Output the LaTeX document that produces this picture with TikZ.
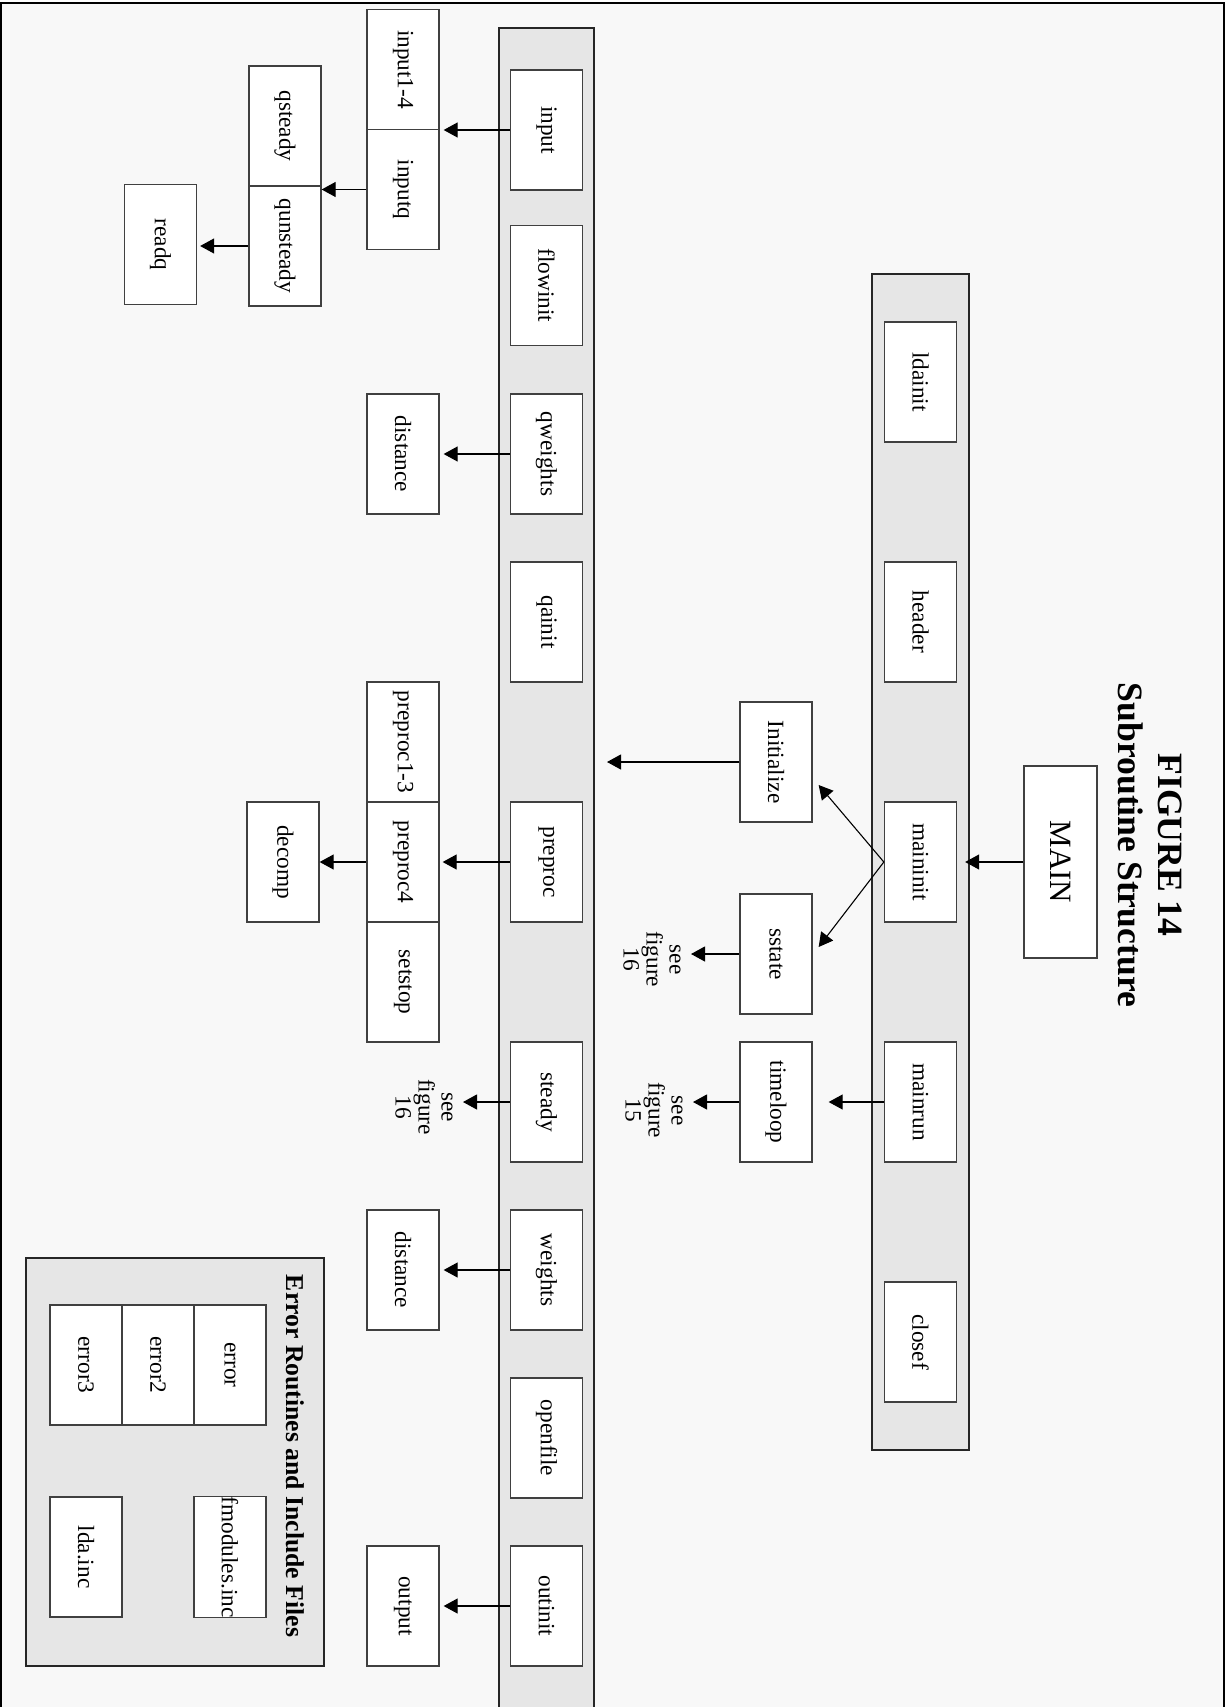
\documentclass[tikz,border=0pt]{standalone}
\usepackage{fontspec}
\setmainfont{Liberation Serif}
\usetikzlibrary{arrows.meta,calc}
\definecolor{bgc}{HTML}{F8F8F8}
\definecolor{stripc}{HTML}{E6E6E6}
\begin{document}
\begin{tikzpicture}[x=0.5pt,y=-0.5pt,
  box/.style={draw=black!75, fill=white, line width=0.65pt, rotate=-90,
    minimum width=60pt, minimum height=36pt, inner sep=0pt,
    font=\fontsize{11.65pt}{13pt}\selectfont},
  arr/.style={-{Triangle[length=7pt,width=7.5pt]}, line width=0.55pt},
  strip/.style={fill=stripc, draw=black!85, line width=0.65pt},
  seefig/.style={rotate=-90, align=center, inner xsep=0pt, inner ysep=5pt,
    anchor=north, font=\fontsize{11.65pt}{11.5pt}\selectfont}
]
\useasboundingbox (0,0) rectangle (1231,1707);
\fill[white] (0,0) rectangle (1231,1707);
\fill[bgc] (1,3) rectangle (1224,1707);
\draw[line width=0.65pt] (1,1707) -- (1,3) -- (1224,3) -- (1224,1707);

% strips
\path[strip] (499,28) rectangle (594,1715);
\path[strip] (872,274) rectangle (969,1450);
\path[strip] (26,1258) rectangle (324,1666);

% title
\node[rotate=-90, align=center, font=\bfseries\fontsize{17.8pt}{20pt}\selectfont] (title) at (1150,845) {FIGURE 14\\Subroutine Structure};
\node[box, minimum width=96pt, minimum height=36.5pt, font=\fontsize{15.5pt}{18pt}\selectfont] (MAIN) at (1060.5,862) {MAIN};

% right strip
\node[box] (ldainit) at (920.5,382) {ldainit};
\node[box] (header) at (920.5,622) {header};
\node[box] (maininit) at (920.5,862) {maininit};
\node[box] (mainrun) at (920.5,1102) {mainrun};
\node[box] (closef) at (920.5,1342) {closef};

% middle column
\node[box] (Initialize) at (776,762) {Initialize};
\node[box] (sstate) at (776,954) {sstate};
\node[box] (timeloop) at (776,1102) {timeloop};

% left strip
\node[box] (input) at (546.5,130) {input};
\node[box] (flowinit) at (546.5,285.5) {flowinit};
\node[box] (qweights) at (546.5,454) {qweights};
\node[box] (qainit) at (546.5,622) {qainit};
\node[box] (preproc) at (546.5,862) {preproc};
\node[box] (steady) at (546.5,1102) {steady};
\node[box] (weights) at (546.5,1270) {weights};
\node[box] (openfile) at (546.5,1438) {openfile};
\node[box] (outinit) at (546.5,1606) {outinit};

% left column
\node[box] (input14) at (403,69.5) {input1-4};
\node[box] (inputq) at (403,189.5) {inputq};
\node[box] (qsteady) at (285,126) {qsteady};
\node[box] (qunsteady) at (285,246) {qunsteady};
\node[box] (readq) at (160.5,244.5) {readq};
\node[box] (distanceA) at (403,454) {distance};
\node[box] (preproc13) at (403,742) {preproc1-3};
\node[box] (preproc4) at (403,862) {preproc4};
\node[box] (setstop) at (403,982) {setstop};
\node[box] (decomp) at (283,862) {decomp};
\node[box] (distanceB) at (403,1270) {distance};
\node[box] (output) at (403,1606) {output};

% error routines group
\node[rotate=-90, font=\bfseries\fontsize{12.85pt}{15pt}\selectfont] (errtitle) at (295,1456) {Error Routines and Include Files};
\node[box] (error) at (230,1365) {error};
\node[box] (error2) at (158,1365) {error2};
\node[box] (error3) at (86,1365) {error3};
\node[box] (fmodules) at (230,1557) {fmodules.inc};
\node[box] (ldainc) at (86,1557) {lda.inc};

% see figure labels
\node[seefig] (see16a) at (691,959.5) {see\\figure\\16};
\node[seefig] (see15) at (693,1110.5) {see\\figure\\15};
\node[seefig] (see16b) at (463,1107) {see\\figure\\16};

% connectors
\coordinate (initTip) at ($(Initialize.north)+(6,23)$);
\coordinate (sstateTip) at ($(sstate.north)+(6,-7)$);
\coordinate (initOut) at (607,762);

\draw[arr, shorten >=4pt] (MAIN.south) -- (maininit.north);
\draw[arr] (maininit.south) -- (initTip);
\draw[arr] (maininit.south) -- (sstateTip);
\draw[arr] (Initialize.south) -- (initOut);
\draw[arr] (sstate.south) -- (sstate.south -| see16a.north);
\draw[arr, shorten >=8pt] (mainrun.south) -- (timeloop.north);
\draw[arr] (timeloop.south) -- (timeloop.south -| see15.north);

\draw[arr, shorten >=2pt] (input.south) -- (input.south -| inputq.north);
\draw[arr] (inputq.south) -- (inputq.south -| qsteady.north);
\draw[arr, shorten >=1.5pt] (qunsteady.south) -- (qunsteady.south -| readq.north);
\draw[arr, shorten >=2pt] (qweights.south) -- (distanceA.north);
\draw[arr, shorten >=1.5pt] (preproc.south) -- (preproc4.north);
\draw[arr] (preproc4.south) -- (decomp.north);
\draw[arr] (steady.south) -- (steady.south -| see16b.north);
\draw[arr, shorten >=2pt] (weights.south) -- (distanceB.north);
\draw[arr, shorten >=2pt] (outinit.south) -- (output.north);
\end{tikzpicture}
\end{document}
